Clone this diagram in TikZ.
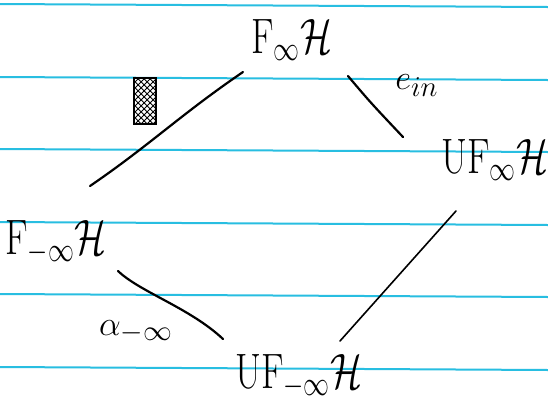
\documentclass[tikz,border=0pt]{standalone}
\usepackage{amsmath}
\usetikzlibrary{patterns}
\definecolor{ruled}{RGB}{40,190,225}
\tikzset{
  ruleline/.style={draw=ruled, line width=1pt},
  obj/.style={inner sep=0pt, anchor=base, font=\fontsize{26}{30}\selectfont},
  lbl/.style={inner sep=0pt, font=\fontsize{19}{22}\selectfont},
  arm/.style={draw=black, line width=1.1pt, line cap=round},
}
\begin{document}
\begin{tikzpicture}[x=0.5pt, y=-0.5pt]
\useasboundingbox (0,0) rectangle (548,403);
\fill[white] (0,0) rectangle (548,403);
% ruled paper
\foreach \yy in {4,77,149,222,294,367}
  \draw[ruleline] (0,\yy) -- (548,\yy+3);

% objects
\node[obj] (top) at (292,53) {\scalebox{0.75}[1]{$\mathrm{F}_{\infty}\mathcal{H}$}};
\node[obj] (right) at (495,173) {\scalebox{0.75}[1]{$\mathrm{UF}_{\infty}\mathcal{H}$}};
\node[obj] (left) at (56,254) {\scalebox{0.75}[1]{$\mathrm{F}_{-\infty}\mathcal{H}$}};
\node[obj] (bottom) at (299,388) {\scalebox{0.75}[1]{$\mathrm{UF}_{-\infty}\mathcal{H}$}};

% connector end points
\coordinate (tl) at (243,72);
\coordinate (lt) at (90,186);
\coordinate (tr) at (348,76);
\coordinate (rt) at (403,137);
\coordinate (rb) at (456,211);
\coordinate (br) at (340,341);
\coordinate (lb) at (118,271);
\coordinate (bl) at (223,339);

\draw[arm] (tl) .. controls (180,115) and (150,145) .. (lt);
\draw[arm] (tr) .. controls (370,102) .. (rt);
\draw[arm, line width=0.8pt] (rb) -- (br);
\draw[arm] (lb) .. controls (140,292) and (190,308) .. (bl);

% labels
\draw[line width=0.9pt, fill=black!45, pattern=crosshatch] (134,78) rectangle (156,124);
\node[lbl] (ein) at (417,86) {$e_{in}$};
\node[lbl] (alpha) at (136,332) {$\alpha_{-\infty}$};
\end{tikzpicture}
\end{document}
